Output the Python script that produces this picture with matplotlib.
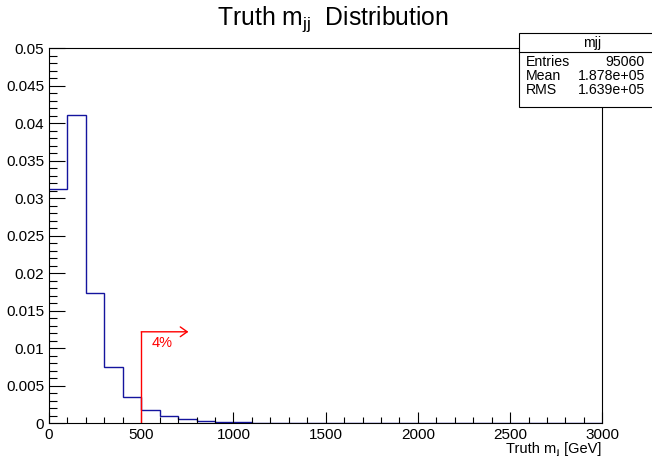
import matplotlib
matplotlib.use("Agg")
import matplotlib.pyplot as plt
import matplotlib.ticker as mticker
from matplotlib.patches import Rectangle
from matplotlib.lines import Line2D
from matplotlib.transforms import offset_copy
import numpy as np

plt.rcParams["font.family"] = ["Liberation Sans", "DejaVu Sans"]
plt.rcParams["mathtext.fontset"] = "custom"
plt.rcParams["mathtext.rm"] = "Liberation Sans"
plt.rcParams["mathtext.it"] = "Liberation Sans"

# truth m_jj, 100 GeV bins, normalised weights
bin_edges = list(range(0, 3100, 100))
mjj_frac = [0.0312, 0.0411, 0.0174, 0.0075, 0.0035, 0.0018, 0.00097, 0.00057,
            0.00035, 0.00022, 0.00014, 0.00010, 0.00007, 0.00005, 0.000035,
            0.000025, 0.00002, 0.000015, 0.00001, 0.000008, 0.000006, 0.000005,
            0.000004, 0.000003, 0.000003, 0.000002, 0.000002, 0.000001,
            0.000001, 0.000001]

cut_value = 500
cut_height = 0.0122
cut_arrow_end = 756
cut_label = "4%"

stats_name = "mjj"
stats_rows = [("Entries", "95060"), ("Mean", "1.878e+05"), ("RMS", "1.639e+05")]

W, H = 652, 457
fig = plt.figure(figsize=(W / 100, H / 100), dpi=100)
ax = fig.add_axes([49 / W, (H - 423.3) / H, (602.3 - 49) / W, (423.3 - 48.3) / H])

ax.stairs(mjj_frac, bin_edges, color="#14149e", linewidth=1.0, baseline=None)

ax.set_xlim(0, 3000)
ax.set_ylim(0, 0.05)

# ROOT-like axes: ticks inside, only on left/bottom
ax.xaxis.set_major_locator(mticker.MultipleLocator(500))
ax.xaxis.set_minor_locator(mticker.MultipleLocator(100))
ax.yaxis.set_major_locator(mticker.MultipleLocator(0.005))
ax.yaxis.set_minor_locator(mticker.MultipleLocator(0.001))
ax.yaxis.set_major_formatter(mticker.FuncFormatter(lambda v, p: "%g" % round(v, 4)))
ax.tick_params(axis="both", which="both", direction="in", top=False, right=False,
               labelsize=11, width=0.8, colors="black")
ax.tick_params(axis="y", which="major", length=11.5, pad=3.5)
ax.tick_params(axis="y", which="minor", length=5.8)
ax.tick_params(axis="x", which="major", length=7.9, pad=3.5)
ax.tick_params(axis="x", which="minor", length=4)
for s in ax.spines.values():
    s.set_linewidth(0.8)

# x title pieced together, ROOT draws the subscript very small
renderer = fig.canvas.get_renderer()
base_y = 1 - 453 / H
t_unit = fig.text(601 / W, base_y, " [GeV]", fontsize=10.5, ha="right", va="baseline")
w_unit = t_unit.get_window_extent(renderer).width
t_sub = fig.text((601 - w_unit) / W, base_y, "jj", fontsize=5, ha="right", va="baseline",
                 transform=offset_copy(fig.transFigure, fig=fig, y=-1, units="dots"))
w_sub = t_sub.get_window_extent(renderer).width
fig.text((601 - w_unit - w_sub) / W, base_y, "Truth m", fontsize=10.5, ha="right",
         va="baseline")

# cut line with arrow
ax.plot([cut_value, cut_value], [0, cut_height], color="red", linewidth=1.0)
ax.annotate("", xy=(cut_arrow_end, cut_height), xytext=(cut_value, cut_height),
            arrowprops=dict(arrowstyle="->,head_length=0.5,head_width=0.35",
                            color="red", linewidth=1.0, shrinkA=0, shrinkB=0,
                            mutation_scale=10))
ax.text(613, 0.0107, cut_label, color="red", fontsize=10.5, ha="center", va="center")

fig.text(333 / W, 1 - 19 / H, r"Truth m$_{\rm jj}$  Distribution", fontsize=17.8,
         ha="center", va="center")

# stats box
bx0, by0, bx1, by1 = 519, 33, 665, 107
fig.add_artist(Rectangle((bx0 / W, 1 - by1 / H), (bx1 - bx0) / W, (by1 - by0) / H,
                         transform=fig.transFigure, facecolor="white",
                         edgecolor="black", linewidth=0.8, zorder=5))
fig.add_artist(Line2D([bx0 / W, bx1 / W], [1 - 52 / H, 1 - 52 / H],
                      transform=fig.transFigure, color="black", linewidth=0.8, zorder=6))
fig.text(592 / W, 1 - 43 / H, stats_name, fontsize=10.2, ha="center", va="center", zorder=7)
for i, (k, v) in enumerate(stats_rows):
    yy = 1 - (62.5 + 13.5 * i) / H
    fig.text(526 / W, yy, k, fontsize=10.2, ha="left", va="center", zorder=7)
    fig.text(645 / W, yy, v, fontsize=10.2, ha="right", va="center", zorder=7)

fig.savefig("out.png", dpi=100)
